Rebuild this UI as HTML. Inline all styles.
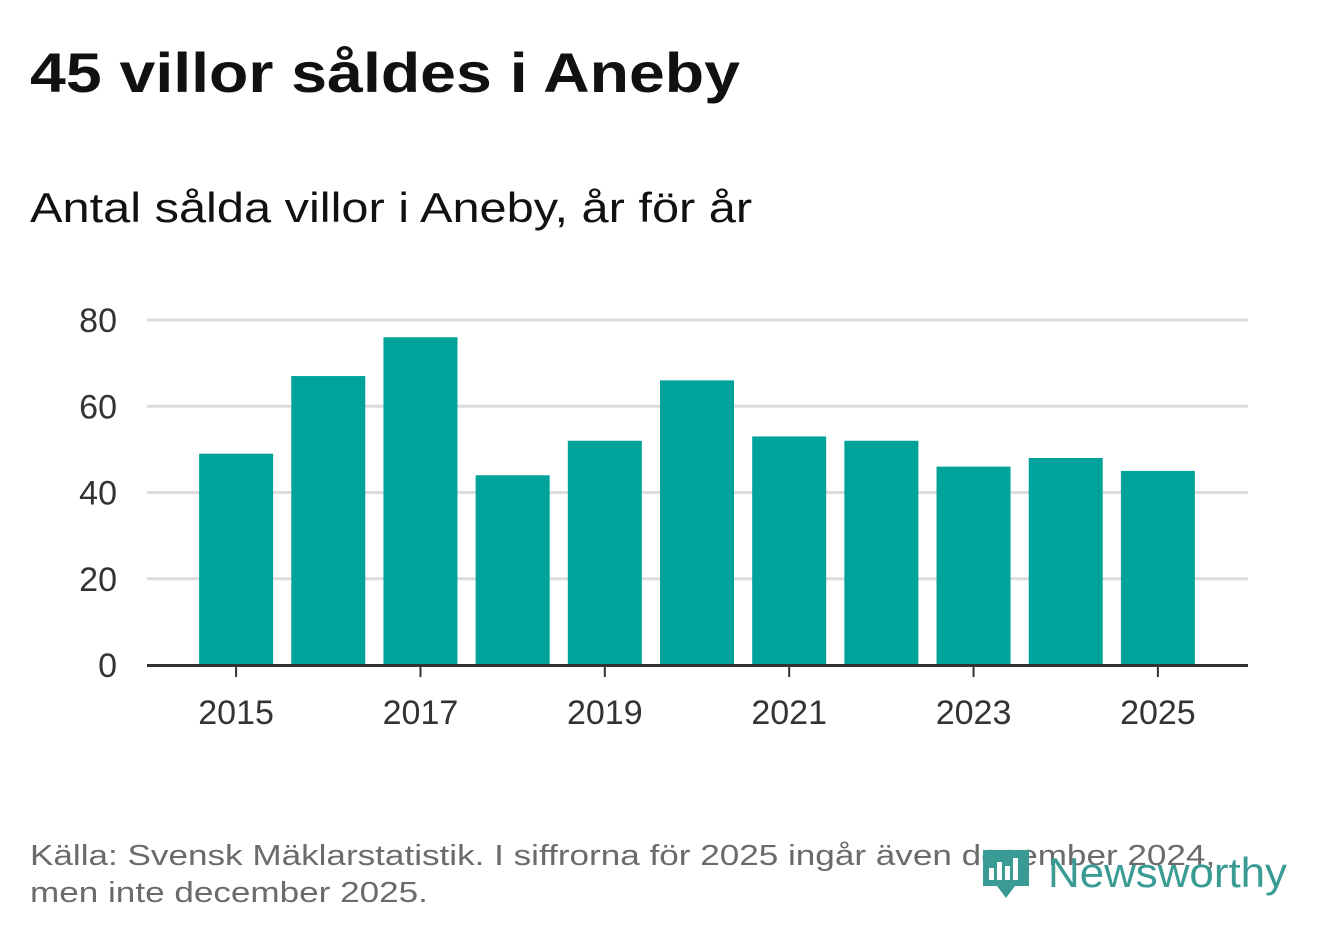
<!DOCTYPE html>
<html><head><meta charset="utf-8"><style>
body{margin:0;background:#fff;width:1322px;height:939px;overflow:hidden;font-family:"Liberation Sans","DejaVu Sans",sans-serif;}
#title{position:absolute;left:30px;top:40px;font-size:56px;font-weight:bold;color:#111;margin:0;white-space:nowrap;transform-origin:0 0;transform:scaleX(1.15)}
#sub{position:absolute;left:30px;top:184px;font-size:42px;color:#111;white-space:nowrap;transform-origin:0 0;transform:scaleX(1.16)}
#foot{position:absolute;left:30px;top:838px;font-size:29px;color:#6b6b6b;line-height:37px;white-space:nowrap;transform-origin:0 0;transform:scaleX(1.21)}
</style></head><body>
<h1 id="title">45 villor såldes i Aneby</h1>
<div id="sub">Antal sålda villor i Aneby, år för år</div>
<svg id="chart" width="1322" height="939" style="position:absolute;left:0;top:0"></svg>
<div id="foot">Källa: Svensk Mäklarstatistik. I siffrorna för 2025 ingår även december 2024,<br>men inte december 2025.</div>
<svg width="330" height="75" style="position:absolute;left:975px;top:840px">
<path d="M8 10 h46 v36 h-14 l-9 12 l-9 -12 h-14 z" fill="#3a9b95"/>
<rect x="14" y="28" width="5" height="12" fill="#fff"/><rect x="22" y="22" width="5" height="18" fill="#fff"/><rect x="30" y="26" width="5" height="14" fill="#fff"/><rect x="38" y="18" width="5" height="22" fill="#fff"/>
<text x="73" y="47" font-size="42" textLength="239" lengthAdjust="spacingAndGlyphs" font-family="Liberation Sans, sans-serif" fill="#3a9b95">Newsworthy</text>
</svg>
<script>
const years=[2015,2016,2017,2018,2019,2020,2021,2022,2023,2024,2025];
const values=[49,67,76,44,52,66,53,52,46,48,45];
const yTicks=[0,20,40,60,80];
const xTickYears=[2015,2017,2019,2021,2023,2025];
const NS="http://www.w3.org/2000/svg";
const svg=document.getElementById('chart');
const x0=147,x1=1248,y0=665,yTop=320,yMax=80;
const bandStart=190,bandEnd=1204;
const step=(bandEnd-bandStart)/years.length;
const y=v=>y0-(v/yMax)*(y0-yTop);
const xc=i=>bandStart+step*(i+0.5);
function mk(t,a){const e=document.createElementNS(NS,t);for(const k in a)e.setAttribute(k,a[k]);svg.appendChild(e);return e;}
yTicks.forEach(v=>{
 if(v>0){const l=mk('line',{x1:x0,x2:x1,y1:y(v),y2:y(v),stroke:'#dcdcdc','stroke-width':3});
 
 }
 const t=mk('text',{x:117,y:y(v)+12,'text-anchor':'end','font-size':34,fill:'#333'});t.textContent=v;
 
 
});
years.forEach((yr,i)=>{
 const r=mk('rect',{x:xc(i)-37,y:y(values[i]),width:74,height:y0-y(values[i]),fill:'#00a39a'});
 
 
});
const ax=mk('line',{x1:x0,x2:x1,y1:y0+0.5,y2:y0+0.5,stroke:'#333','stroke-width':3});


xTickYears.forEach(yr=>{
 const i=years.indexOf(yr);
 const tk=mk('line',{x1:xc(i),x2:xc(i),y1:y0,y2:y0+12,stroke:'#333','stroke-width':2});
 
 
 const t=mk('text',{x:xc(i),y:y0+59,'text-anchor':'middle','font-size':34,fill:'#333'});t.textContent=yr;
 
 
});
</script>
</body></html>
